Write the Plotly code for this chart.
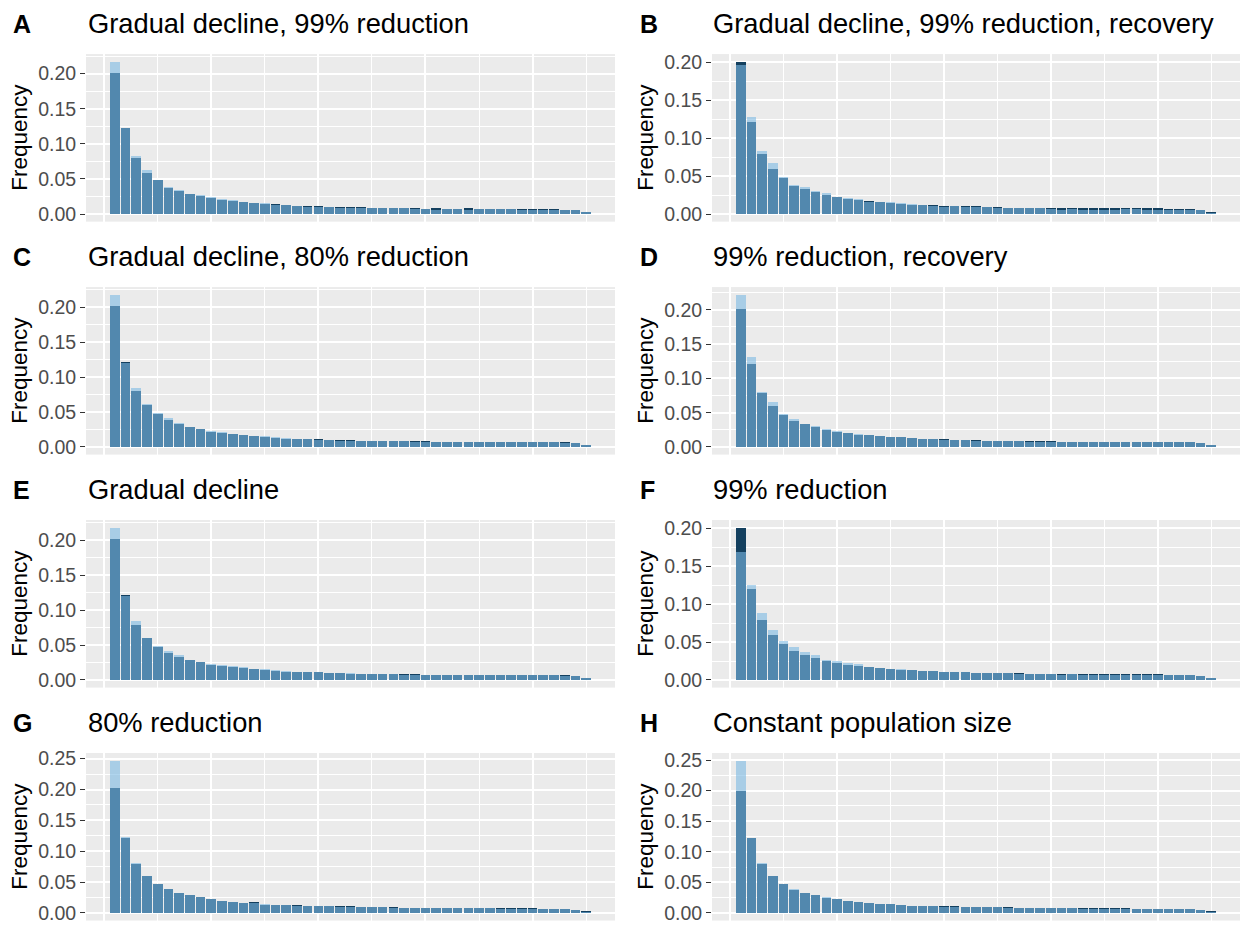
import plotly.graph_objects as go

W, H = 1244, 931

panel_letters = ["A", "B", "C", "D", "E", "F", "G", "H"]
panel_titles = [
    "Gradual decline, 99% reduction",
    "Gradual decline, 99% reduction, recovery",
    "Gradual decline, 80% reduction",
    "99% reduction, recovery",
    "Gradual decline",
    "99% reduction",
    "80% reduction",
    "Constant population size",
]

bins = list(range(1, 46))

dark_A = [0.201, 0.122, 0.079, 0.059, 0.048, 0.037, 0.0325, 0.029, 0.025, 0.0226, 0.0198, 0.0184, 0.0165, 0.0151, 0.0141,
          0.0141, 0.0123, 0.0113, 0.0113, 0.0113, 0.0094, 0.0094, 0.0094, 0.0094, 0.0085, 0.008, 0.008, 0.008, 0.008, 0.0066,
          0.008, 0.0066, 0.0066, 0.008, 0.0066, 0.0066, 0.0066, 0.0066, 0.0066, 0.0066, 0.0066, 0.0066, 0.0052, 0.0052, 0.0024]
light_A = [0.217, 0.123, 0.083, 0.062, 0.048, 0.0387, 0.0335, 0.029, 0.0264, 0.0236, 0.0212, 0.0193, 0.0165, 0.0151, 0.0151,
           0.0132, 0.0128, 0.0113, 0.0104, 0.0104, 0.0094, 0.0085, 0.009, 0.0085, 0.008, 0.008, 0.008, 0.008, 0.0071, 0.0066,
           0.0057, 0.0066, 0.0066, 0.0061, 0.0066, 0.0066, 0.0066, 0.0066, 0.0052, 0.0057, 0.0052, 0.0057, 0.0052, 0.0052, 0.0024]

dark_B = [0.201, 0.1217, 0.0796, 0.0587, 0.047, 0.0374, 0.0326, 0.0287, 0.0248, 0.0226, 0.0196, 0.0183, 0.0165, 0.0157, 0.0143,
          0.0135, 0.0117, 0.0117, 0.0113, 0.0100, 0.0100, 0.0100, 0.0104, 0.0091, 0.0091, 0.0078, 0.0078, 0.0078, 0.0078, 0.0078,
          0.0078, 0.0074, 0.0078, 0.0078, 0.0078, 0.0078, 0.0078, 0.0078, 0.0078, 0.0078, 0.0065, 0.0065, 0.0065, 0.0052, 0.0026]
light_B = [0.196, 0.1278, 0.0835, 0.0678, 0.0487, 0.0383, 0.036, 0.0300, 0.027, 0.023, 0.0209, 0.0191, 0.0157, 0.0157, 0.0152,
           0.0143, 0.0126, 0.0117, 0.0104, 0.0096, 0.0100, 0.0096, 0.0096, 0.0087, 0.0078, 0.0078, 0.0078, 0.0078, 0.0078, 0.0070,
           0.0057, 0.0070, 0.0057, 0.0057, 0.0057, 0.0057, 0.0070, 0.0065, 0.0057, 0.0057, 0.0057, 0.0057, 0.0057, 0.0052, 0.0017]

dark_C = [0.202, 0.121, 0.080, 0.060, 0.047, 0.038, 0.033, 0.028, 0.025, 0.022, 0.020, 0.019, 0.017, 0.015, 0.014,
          0.013, 0.012, 0.012, 0.011, 0.011, 0.010, 0.010, 0.0095, 0.009, 0.009, 0.009, 0.0085, 0.008, 0.008, 0.008,
          0.0075, 0.0075, 0.0075, 0.0075, 0.007, 0.0075, 0.007, 0.007, 0.007, 0.007, 0.007, 0.007, 0.0065, 0.0055, 0.003]
light_C = [0.218, 0.120, 0.085, 0.061, 0.048, 0.041, 0.034, 0.029, 0.026, 0.023, 0.021, 0.019, 0.017, 0.016, 0.015,
           0.014, 0.013, 0.012, 0.011, 0.010, 0.0095, 0.009, 0.009, 0.009, 0.0085, 0.0085, 0.008, 0.008, 0.0075, 0.007,
           0.0075, 0.007, 0.0068, 0.007, 0.007, 0.0068, 0.007, 0.007, 0.0068, 0.007, 0.0065, 0.0068, 0.006, 0.0055, 0.0025]

dark_D = [0.201, 0.121, 0.079, 0.060, 0.047, 0.038, 0.033, 0.029, 0.025, 0.022, 0.020, 0.018, 0.017, 0.016, 0.015,
          0.014, 0.013, 0.012, 0.0115, 0.011, 0.010, 0.010, 0.0095, 0.009, 0.009, 0.0085, 0.0085, 0.008, 0.008, 0.008,
          0.0075, 0.0075, 0.0075, 0.0075, 0.0075, 0.0075, 0.0075, 0.0075, 0.0075, 0.0075, 0.007, 0.007, 0.0068, 0.0055, 0.0028]
light_D = [0.222, 0.131, 0.080, 0.066, 0.048, 0.041, 0.034, 0.031, 0.026, 0.023, 0.021, 0.019, 0.017, 0.016, 0.015,
           0.014, 0.013, 0.012, 0.011, 0.0105, 0.010, 0.0095, 0.009, 0.0085, 0.0085, 0.008, 0.008, 0.0078, 0.0075, 0.007,
           0.007, 0.0072, 0.007, 0.007, 0.0068, 0.007, 0.007, 0.0068, 0.0065, 0.007, 0.0068, 0.0065, 0.0065, 0.0055, 0.0022]

dark_E = [0.201, 0.121, 0.079, 0.060, 0.047, 0.038, 0.033, 0.029, 0.025, 0.022, 0.020, 0.018, 0.017, 0.015, 0.014,
          0.013, 0.012, 0.012, 0.011, 0.011, 0.010, 0.0095, 0.009, 0.009, 0.0085, 0.0085, 0.008, 0.008, 0.008, 0.0075,
          0.0075, 0.0075, 0.0072, 0.0072, 0.007, 0.007, 0.007, 0.007, 0.007, 0.007, 0.007, 0.0068, 0.0065, 0.0055, 0.0028]
light_E = [0.218, 0.120, 0.085, 0.060, 0.048, 0.041, 0.035, 0.029, 0.026, 0.023, 0.021, 0.020, 0.018, 0.016, 0.015,
           0.014, 0.013, 0.012, 0.0115, 0.011, 0.010, 0.0095, 0.0095, 0.009, 0.0085, 0.008, 0.008, 0.0075, 0.0075, 0.0072,
           0.007, 0.007, 0.007, 0.0068, 0.0068, 0.007, 0.007, 0.0068, 0.0068, 0.0065, 0.0068, 0.0065, 0.006, 0.005, 0.0022]

dark_F = [0.201, 0.120, 0.0796, 0.0587, 0.047, 0.0378, 0.033, 0.0287, 0.0248, 0.0222, 0.020, 0.0187, 0.017, 0.0157, 0.0143,
          0.0135, 0.0126, 0.0122, 0.0122, 0.011, 0.0105, 0.010, 0.0095, 0.009, 0.009, 0.0087, 0.0085, 0.0082, 0.008, 0.008,
          0.0078, 0.0078, 0.0078, 0.0078, 0.008, 0.008, 0.008, 0.0078, 0.0075, 0.0075, 0.007, 0.007, 0.0065, 0.0055, 0.003]
light_F = [0.1683, 0.1252, 0.0887, 0.0665, 0.0509, 0.043, 0.0365, 0.0326, 0.026, 0.0248, 0.0222, 0.0209, 0.017, 0.0155, 0.0148,
           0.0143, 0.0131, 0.0122, 0.0118, 0.011, 0.0105, 0.010, 0.0095, 0.009, 0.0088, 0.0085, 0.008, 0.008, 0.0078, 0.0072,
           0.007, 0.0072, 0.007, 0.0068, 0.0068, 0.007, 0.007, 0.0068, 0.0068, 0.0065, 0.0065, 0.0065, 0.006, 0.005, 0.0022]

dark_G = [0.2019, 0.122, 0.079, 0.0598, 0.047, 0.0385, 0.0326, 0.0294, 0.0256, 0.0224, 0.0198, 0.0182, 0.0166, 0.0171, 0.0134,
          0.0134, 0.0123, 0.0123, 0.0112, 0.0118, 0.011, 0.0105, 0.0105, 0.0095, 0.0095, 0.009, 0.009, 0.0085, 0.0085, 0.0085,
          0.008, 0.008, 0.008, 0.0078, 0.0078, 0.0075, 0.0075, 0.0075, 0.0072, 0.0072, 0.007, 0.0065, 0.006, 0.005, 0.0025]
light_G = [0.2468, 0.1234, 0.0817, 0.0598, 0.047, 0.0385, 0.0326, 0.0294, 0.0256, 0.0224, 0.0198, 0.0182, 0.0166, 0.016, 0.015,
           0.0134, 0.0134, 0.011, 0.0112, 0.011, 0.0105, 0.010, 0.0095, 0.0095, 0.009, 0.009, 0.0085, 0.0085, 0.008, 0.0078,
           0.0078, 0.0075, 0.0075, 0.0075, 0.0072, 0.0072, 0.007, 0.007, 0.0068, 0.0068, 0.0065, 0.0062, 0.006, 0.005, 0.0022]

dark_H = [0.200, 0.122, 0.080, 0.060, 0.047, 0.038, 0.033, 0.029, 0.025, 0.022, 0.020, 0.018, 0.017, 0.015, 0.014,
          0.013, 0.012, 0.012, 0.011, 0.011, 0.011, 0.010, 0.010, 0.0095, 0.009, 0.009, 0.0088, 0.0085, 0.0085, 0.008,
          0.008, 0.008, 0.0078, 0.0078, 0.0075, 0.0075, 0.0075, 0.0072, 0.0072, 0.007, 0.007, 0.0068, 0.0065, 0.0055, 0.0025]
light_H = [0.249, 0.122, 0.082, 0.060, 0.048, 0.039, 0.033, 0.029, 0.026, 0.023, 0.020, 0.018, 0.016, 0.015, 0.014,
           0.013, 0.012, 0.0115, 0.011, 0.0105, 0.010, 0.0098, 0.0095, 0.009, 0.009, 0.0085, 0.0085, 0.008, 0.008, 0.0078,
           0.0075, 0.0075, 0.0072, 0.0072, 0.007, 0.007, 0.007, 0.0068, 0.0068, 0.0065, 0.0065, 0.0062, 0.006, 0.005, 0.002]

dark_series = [dark_A, dark_B, dark_C, dark_D, dark_E, dark_F, dark_G, dark_H]
light_series = [light_A, light_B, light_C, light_D, light_E, light_F, light_G, light_H]

DARK = "rgb(20,64,95)"
LIGHT = "rgba(123,185,227,0.6)"
PANEL_BG = "#EBEBEB"
FONT = "Liberation Sans, Arial, Helvetica, sans-serif"

col_x = [(86, 615), (712, 1240)]
row_top = [49.5, 284.5, 519.5, 754.5]
panel_h = 169
title_y = [19, 254, 489, 724]
letter_x = [11, 638]
title_x = [86, 711]
ylab_x = [20, 646]

fig = go.Figure()
annotations = []

for i in range(8):
    r, c = divmod(i, 2)
    ax = "" if i == 0 else str(i + 1)
    x0, x1 = col_x[c]
    top = row_top[r]
    bot = top + panel_h

    fig.add_trace(go.Bar(x=bins, y=dark_series[i], width=0.9, marker=dict(color=DARK, line=dict(width=0)),
                         xaxis="x" + ax, yaxis="y" + ax, showlegend=False, hoverinfo="x+y"))
    fig.add_trace(go.Bar(x=bins, y=light_series[i], width=0.9, marker=dict(color=LIGHT, line=dict(width=0)),
                         xaxis="x" + ax, yaxis="y" + ax, showlegend=False, hoverinfo="x+y"))

    lo, hi = bins[0] - 0.45, bins[-1] + 0.45
    span = hi - lo
    xr = [lo - 0.05 * span, hi + 0.05 * span]
    m = max(max(dark_series[i]), max(light_series[i]))
    yr = [-0.05 * m, 1.05 * m]

    fig.layout["xaxis" + ax] = dict(
        domain=[x0 / W, x1 / W], range=xr, anchor="y" + ax,
        showticklabels=False, ticks="", tick0=0, dtick=10,
        showgrid=True, gridcolor="white", gridwidth=1.6, zeroline=False, showline=False,
        minor=dict(tick0=0, dtick=5, showgrid=True, gridcolor="white", gridwidth=1.3),
        fixedrange=True,
    )
    fig.layout["yaxis" + ax] = dict(
        domain=[1 - bot / H, 1 - top / H], range=yr, anchor="x" + ax,
        tick0=0, dtick=0.05, tickformat=".2f", ticks="outside", ticklen=5, tickwidth=1.3,
        tickcolor="#333333", tickfont=dict(family=FONT, size=19.5, color="#4D4D4D"),
        showgrid=True, gridcolor="white", gridwidth=1.6, zeroline=False, showline=False,
        minor=dict(tick0=0, dtick=0.025, showgrid=True, gridcolor="white", gridwidth=1.2),
        fixedrange=True,
    )

    annotations.append(dict(text="<b>" + panel_letters[i] + "</b>", xref="paper", yref="paper",
                            x=letter_x[c] / W, y=1 - title_y[r] / H, xanchor="left", yanchor="middle",
                            showarrow=False, font=dict(family=FONT, size=25, color="black")))
    annotations.append(dict(text=panel_titles[i], xref="paper", yref="paper",
                            x=title_x[c] / W, y=1 - title_y[r] / H, xanchor="left", yanchor="middle",
                            showarrow=False, font=dict(family=FONT, size=27.3, color="black")))
    annotations.append(dict(text="Frequency", xref="paper", yref="paper", textangle=-90,
                            x=ylab_x[c] / W, y=1 - (top + bot) / 2 / H, xanchor="center", yanchor="middle",
                            showarrow=False, font=dict(family=FONT, size=22.5, color="black")))

fig.update_layout(
    width=W, height=H, margin=dict(l=0, r=0, t=0, b=0),
    paper_bgcolor="white", plot_bgcolor=PANEL_BG,
    barmode="overlay", bargap=0, annotations=annotations,
    font=dict(family=FONT),
)

fig.write_html("out.html")
